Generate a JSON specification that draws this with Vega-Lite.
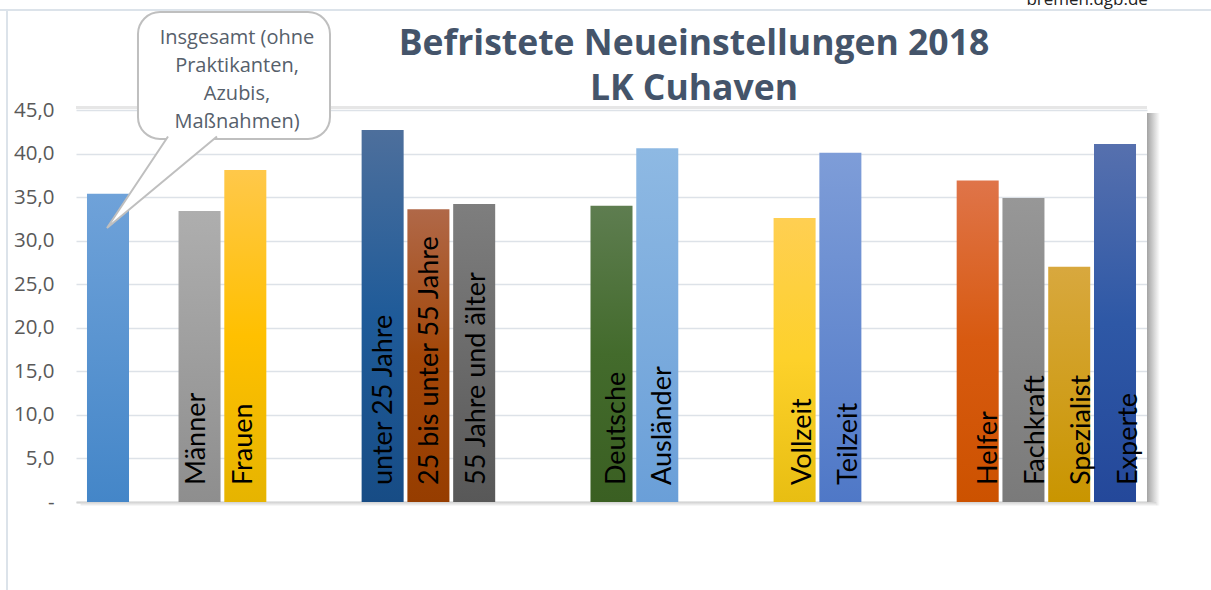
{
  "$schema": "https://vega.github.io/schema/vega-lite/v6.json",
  "width": 1071,
  "height": 392,
  "autosize": {"type": "none"},
  "padding": {"left": 76, "top": 110, "right": 64, "bottom": 88},
  "background": "white",
  "config": {"view": {"stroke": null}},
  "datasets": {
    "neu": [
      {"cat": "Insgesamt", "value": 35.4},
      {"cat": "Männer", "value": 33.4},
      {"cat": "Frauen", "value": 38.1},
      {"cat": "unter 25 Jahre", "value": 42.7},
      {"cat": "25 bis unter 55 Jahre", "value": 33.6},
      {"cat": "55 Jahre und älter", "value": 34.2},
      {"cat": "Deutsche", "value": 34.0},
      {"cat": "Ausländer", "value": 40.6},
      {"cat": "Vollzeit", "value": 32.6},
      {"cat": "Teilzeit", "value": 40.1},
      {"cat": "Helfer", "value": 36.9},
      {"cat": "Fachkraft", "value": 34.9},
      {"cat": "Spezialist", "value": 27.0},
      {"cat": "Experte", "value": 41.1}
    ],
    "tail": [
      {"px": 2.01, "py": 41.95, "ord": 0},
      {"px": 0.677, "py": 31.45, "ord": 1},
      {"px": 3.08, "py": 41.95, "ord": 2}
    ],
    "one": [{}]
  },
  "layer": [
    {
      "data": {"name": "one"},
      "mark": {"type": "rule", "color": "#E6E6E6", "strokeWidth": 3},
      "encoding": {
        "x": {"datum": 0, "type": "quantitative", "scale": {"domain": [0, 23.398], "nice": false, "zero": false}, "axis": null},
        "x2": {"datum": 23.398},
        "y": {"datum": 45.3, "type": "quantitative", "scale": {"domain": [0, 45], "nice": false}, "axis": null}
      }
    },
    {
      "data": {"name": "one"},
      "mark": {"type": "rect", "fill": {"gradient": "linear", "x1": 0, "y1": 0, "x2": 1, "y2": 0, "stops": [{"offset": 0, "color": "#A3A3A3"}, {"offset": 1, "color": "#FFFFFF"}]}},
      "encoding": {
        "x": {"datum": 23.398, "type": "quantitative", "scale": {"domain": [0, 23.398], "nice": false, "zero": false}, "axis": null},
        "x2": {"datum": 23.68},
        "y": {"datum": 44.66, "type": "quantitative", "scale": {"domain": [0, 45], "nice": false}, "axis": null},
        "y2": {"datum": -0.4}
      }
    },
    {
      "data": {"name": "one"},
      "mark": {"type": "rect", "fill": {"gradient": "linear", "x1": 0, "y1": 0, "x2": 0, "y2": 1, "stops": [{"offset": 0, "color": "#D0D0D0"}, {"offset": 1, "color": "#FFFFFF"}]}},
      "encoding": {
        "x": {"datum": 0.1, "type": "quantitative", "scale": {"domain": [0, 23.398], "nice": false, "zero": false}, "axis": null},
        "x2": {"datum": 23.6},
        "y": {"datum": 0, "type": "quantitative", "scale": {"domain": [0, 45], "nice": false}, "axis": null},
        "y2": {"datum": -0.5}
      }
    },
    {
      "data": {"name": "neu"},
      "mark": {"type": "bar"},
      "encoding": {
        "x": {
          "field": "cat",
          "type": "nominal",
          "scale": {
            "domain": ["Insgesamt", "gap1", "Männer", "Frauen", "gap2", "gap3", "unter 25 Jahre", "25 bis unter 55 Jahre", "55 Jahre und älter", "gap4", "gap5", "Deutsche", "Ausländer", "gap6", "gap7", "Vollzeit", "Teilzeit", "gap8", "gap9", "Helfer", "Fachkraft", "Spezialist", "Experte"],
            "paddingInner": 0.082,
            "paddingOuter": 0.24
          },
          "axis": {"labels": false, "ticks": false, "domain": true, "domainColor": "#D2D2D2", "domainWidth": 2, "title": null, "grid": false}
        },
        "y": {
          "field": "value",
          "type": "quantitative",
          "scale": {"domain": [0, 45], "nice": false},
          "axis": {
            "values": [0, 5, 10, 15, 20, 25, 30, 35, 40, 45],
            "labelExpr": "datum.value == 0 ? '-' : replace(format(datum.value, '.1f'), '.', ',')",
            "labelFont": "Open Sans",
            "labelFontSize": 20.5,
            "labelColor": "#595959",
            "labelPadding": 22,
            "ticks": false,
            "domain": false,
            "grid": true,
            "gridColor": "#DDE2E8",
            "gridWidth": 1.5,
            "title": null
          }
        },
        "color": {
          "condition": [
            {"test": "datum.cat == 'Insgesamt'", "value": {"gradient": "linear", "x1": 0, "y1": 0, "x2": 0, "y2": 1, "stops": [{"offset": 0, "color": "#6FA2D9"}, {"offset": 1, "color": "#4486C8"}]}},
            {"test": "datum.cat == 'Männer'", "value": {"gradient": "linear", "x1": 0, "y1": 0, "x2": 0, "y2": 1, "stops": [{"offset": 0, "color": "#AEAEAE"}, {"offset": 1, "color": "#8E8E8E"}]}},
            {"test": "datum.cat == 'Frauen'", "value": {"gradient": "linear", "x1": 0, "y1": 0, "x2": 0, "y2": 1, "stops": [{"offset": 0, "color": "#FFC84A"}, {"offset": 0.5, "color": "#FFC000"}, {"offset": 1, "color": "#E6B400"}]}},
            {"test": "datum.cat == 'unter 25 Jahre'", "value": {"gradient": "linear", "x1": 0, "y1": 0, "x2": 0, "y2": 1, "stops": [{"offset": 0, "color": "#4D6F9C"}, {"offset": 0.5, "color": "#1F5B99"}, {"offset": 1, "color": "#174C85"}]}},
            {"test": "datum.cat == '25 bis unter 55 Jahre'", "value": {"gradient": "linear", "x1": 0, "y1": 0, "x2": 0, "y2": 1, "stops": [{"offset": 0, "color": "#B06848"}, {"offset": 0.5, "color": "#A34709"}, {"offset": 1, "color": "#963D00"}]}},
            {"test": "datum.cat == '55 Jahre und älter'", "value": {"gradient": "linear", "x1": 0, "y1": 0, "x2": 0, "y2": 1, "stops": [{"offset": 0, "color": "#7E7E7E"}, {"offset": 1, "color": "#585858"}]}},
            {"test": "datum.cat == 'Deutsche'", "value": {"gradient": "linear", "x1": 0, "y1": 0, "x2": 0, "y2": 1, "stops": [{"offset": 0, "color": "#5E7D50"}, {"offset": 0.5, "color": "#436B2C"}, {"offset": 1, "color": "#3A5F22"}]}},
            {"test": "datum.cat == 'Ausländer'", "value": {"gradient": "linear", "x1": 0, "y1": 0, "x2": 0, "y2": 1, "stops": [{"offset": 0, "color": "#8EB9E3"}, {"offset": 1, "color": "#6A9FD8"}]}},
            {"test": "datum.cat == 'Vollzeit'", "value": {"gradient": "linear", "x1": 0, "y1": 0, "x2": 0, "y2": 1, "stops": [{"offset": 0, "color": "#FFCF52"}, {"offset": 0.5, "color": "#FDD12A"}, {"offset": 1, "color": "#E8BE12"}]}},
            {"test": "datum.cat == 'Teilzeit'", "value": {"gradient": "linear", "x1": 0, "y1": 0, "x2": 0, "y2": 1, "stops": [{"offset": 0, "color": "#7E9DD8"}, {"offset": 1, "color": "#4F78C7"}]}},
            {"test": "datum.cat == 'Helfer'", "value": {"gradient": "linear", "x1": 0, "y1": 0, "x2": 0, "y2": 1, "stops": [{"offset": 0, "color": "#DF7449"}, {"offset": 0.5, "color": "#D85A10"}, {"offset": 1, "color": "#CC5200"}]}},
            {"test": "datum.cat == 'Fachkraft'", "value": {"gradient": "linear", "x1": 0, "y1": 0, "x2": 0, "y2": 1, "stops": [{"offset": 0, "color": "#979797"}, {"offset": 1, "color": "#7A7A7A"}]}},
            {"test": "datum.cat == 'Spezialist'", "value": {"gradient": "linear", "x1": 0, "y1": 0, "x2": 0, "y2": 1, "stops": [{"offset": 0, "color": "#D8A83E"}, {"offset": 1, "color": "#C99500"}]}}
          ],
          "value": {"gradient": "linear", "x1": 0, "y1": 0, "x2": 0, "y2": 1, "stops": [{"offset": 0, "color": "#5670AE"}, {"offset": 0.5, "color": "#2E58A6"}, {"offset": 1, "color": "#24489A"}]}
        }
      }
    },
    {
      "data": {"name": "neu"},
      "transform": [{"filter": "datum.cat != 'Insgesamt'"}],
      "mark": {"type": "text", "angle": 270, "align": "left", "baseline": "alphabetic", "dx": 17, "dy": 13, "font": "Lato", "fontSize": 27, "color": "#000000"},
      "encoding": {
        "x": {
          "field": "cat",
          "type": "nominal",
          "scale": {
            "domain": ["Insgesamt", "gap1", "Männer", "Frauen", "gap2", "gap3", "unter 25 Jahre", "25 bis unter 55 Jahre", "55 Jahre und älter", "gap4", "gap5", "Deutsche", "Ausländer", "gap6", "gap7", "Vollzeit", "Teilzeit", "gap8", "gap9", "Helfer", "Fachkraft", "Spezialist", "Experte"],
            "paddingInner": 0.082,
            "paddingOuter": 0.24
          },
          "axis": null
        },
        "y": {"datum": 0, "type": "quantitative", "scale": {"domain": [0, 45], "nice": false}, "axis": null},
        "text": {"field": "cat"}
      }
    },
    {
      "data": {"name": "one"},
      "mark": {"type": "rect", "fill": "#FFFFFF", "stroke": "#BFBFBF", "strokeWidth": 2, "cornerRadius": 22},
      "encoding": {
        "x": {"datum": 1.354, "type": "quantitative", "scale": {"domain": [0, 23.398], "nice": false, "zero": false}, "axis": null},
        "x2": {"datum": 5.549},
        "y": {"datum": 56.25, "type": "quantitative", "scale": {"domain": [0, 45], "nice": false}, "axis": null},
        "y2": {"datum": 41.67}
      }
    },
    {
      "data": {"name": "tail"},
      "mark": {"type": "line", "fill": "#FFFFFF", "stroke": "#BFBFBF", "strokeWidth": 2, "interpolate": "linear"},
      "encoding": {
        "x": {"field": "px", "type": "quantitative", "scale": {"domain": [0, 23.398], "nice": false, "zero": false}, "axis": null},
        "y": {"field": "py", "type": "quantitative", "scale": {"domain": [0, 45], "nice": false}, "axis": null},
        "order": {"field": "ord"}
      }
    },
    {
      "data": {"name": "one"},
      "mark": {"type": "text", "text": ["Insgesamt (ohne", "Praktikanten,", "Azubis,", "Maßnahmen)"], "font": "Open Sans", "fontSize": 20, "lineHeight": 28, "color": "#56606B", "align": "center", "baseline": "middle"},
      "encoding": {
        "x": {"datum": 3.517, "type": "quantitative", "scale": {"domain": [0, 23.398], "nice": false, "zero": false}, "axis": null},
        "y": {"datum": 53.27, "type": "quantitative", "scale": {"domain": [0, 45], "nice": false}, "axis": null}
      }
    },
    {
      "data": {"name": "one"},
      "mark": {"type": "text", "text": ["Befristete Neueinstellungen 2018", "LK Cuhaven"], "font": "Open Sans", "fontSize": 35.5, "fontWeight": "bold", "lineHeight": 45, "color": "#44546A", "align": "center", "baseline": "alphabetic"},
      "encoding": {
        "x": {"datum": 13.5, "type": "quantitative", "scale": {"domain": [0, 23.398], "nice": false, "zero": false}, "axis": null},
        "y": {"datum": 51.31, "type": "quantitative", "scale": {"domain": [0, 45], "nice": false}, "axis": null}
      }
    },
    {
      "data": {"name": "one"},
      "mark": {"type": "rule", "color": "#DCE3EA", "strokeWidth": 2},
      "encoding": {
        "x": {"datum": -2, "type": "quantitative", "scale": {"domain": [0, 23.398], "nice": false, "zero": false}, "axis": null},
        "x2": {"datum": 26},
        "y": {"datum": 56.48, "type": "quantitative", "scale": {"domain": [0, 45], "nice": false}, "axis": null}
      }
    },
    {
      "data": {"name": "one"},
      "mark": {"type": "rule", "color": "#DCE3EA", "strokeWidth": 2},
      "encoding": {
        "x": {"datum": -1.507, "type": "quantitative", "scale": {"domain": [0, 23.398], "nice": false, "zero": false}, "axis": null},
        "y": {"datum": 56.48, "type": "quantitative", "scale": {"domain": [0, 45], "nice": false}, "axis": null},
        "y2": {"datum": -12}
      }
    },
    {
      "data": {"name": "one"},
      "mark": {"type": "text", "text": "bremen.dgb.de", "font": "Open Sans", "fontSize": 17, "color": "#222222", "align": "center", "baseline": "alphabetic"},
      "encoding": {
        "x": {"datum": 22.09, "type": "quantitative", "scale": {"domain": [0, 23.398], "nice": false, "zero": false}, "axis": null},
        "y": {"datum": 57.05, "type": "quantitative", "scale": {"domain": [0, 45], "nice": false}, "axis": null}
      }
    }
  ],
  "resolve": {
    "scale": {"x": "independent"},
    "axis": {"x": "independent", "y": "independent"}
  }
}
